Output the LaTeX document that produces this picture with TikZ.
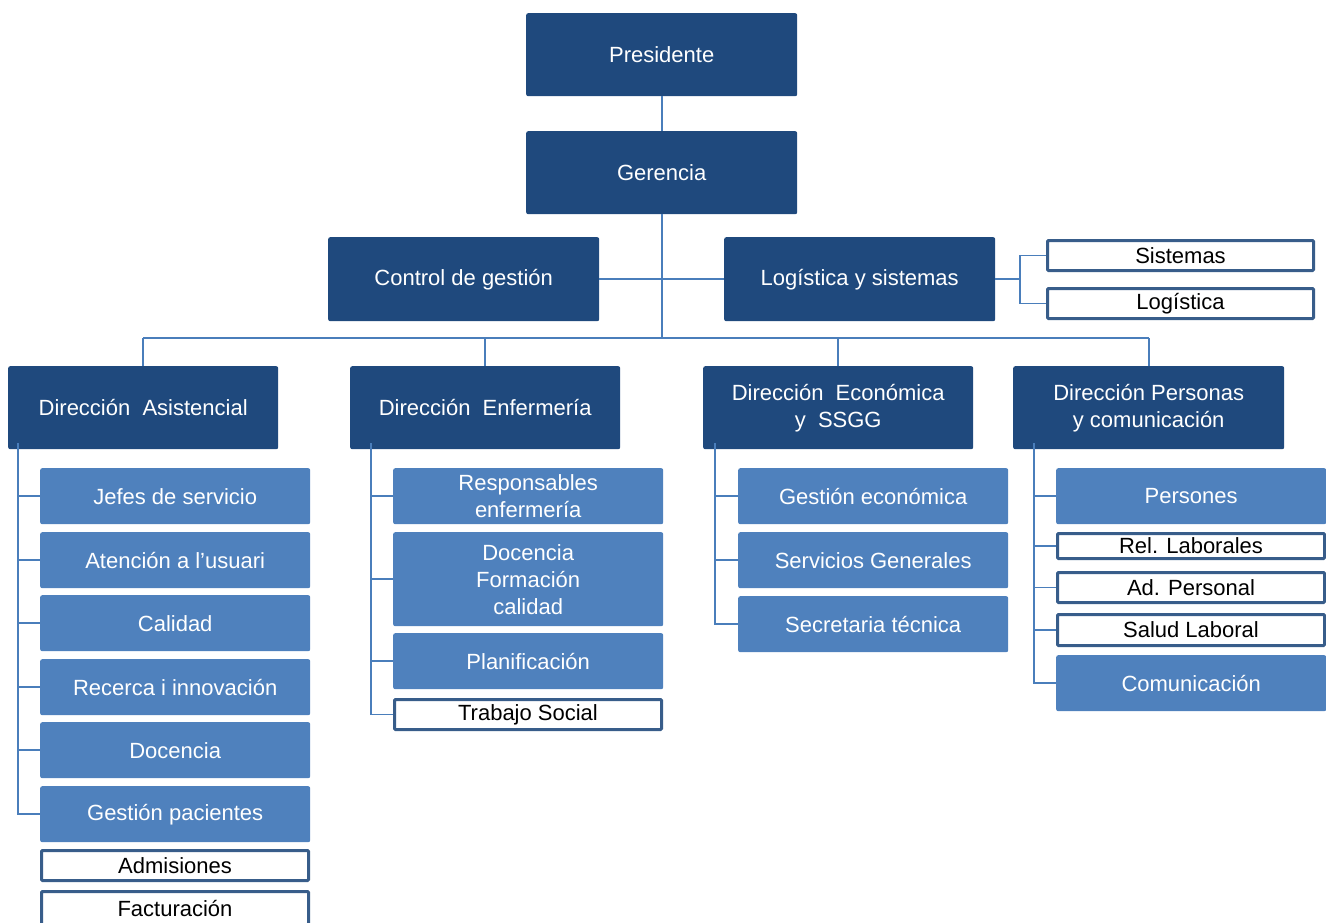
\documentclass[tikz,border=0pt]{standalone}
\usepackage{fontspec}
\setmainfont{Liberation Sans}
\definecolor{navy}{HTML}{1F497D}
\definecolor{mid}{HTML}{4F81BD}
\definecolor{edge}{HTML}{385D8A}
\definecolor{conn}{HTML}{4A7EBB}
\begin{document}
\begin{tikzpicture}[x=1pt,y=-1pt,
 base/.style={rounded corners=2pt, inner sep=0pt, align=center, anchor=north west, font=\fontsize{22}{27}\selectfont},
 topbox/.style={base, fill=navy, text=white, minimum width=271pt, minimum height=83pt},
 subbox/.style={base, fill=mid, text=white, minimum width=270pt, minimum height=56pt},
 wbox/.style={base, rounded corners=1pt, fill=white, draw=edge, line width=3pt, text=black, minimum width=267pt, minimum height=30pt},
 link/.style={draw=conn, line width=1.6pt}]
\useasboundingbox (0,0) rectangle (1326,922);

% top level
\node[topbox] (pres) at (526,13) {Presidente};
\node[topbox] (ger) at (526,131) {Gerencia};
\node[topbox, minimum height=84pt] (ctrl) at (328,237) {Control de gestión};
\node[topbox, minimum height=84pt] (log) at (724,237) {Logística y sistemas};
\node[wbox, minimum width=266pt] (sis) at (1046,239) {Sistemas};
\node[wbox, minimum width=266pt] (logi) at (1046,287) {Logística};

% directors
\node[topbox, minimum width=270pt] (dA) at (8,366) {Dirección~~Asistencial};
\node[topbox, minimum width=270pt] (dE) at (350,366) {Dirección~~Enfermería};
\node[topbox, minimum width=270pt] (dEc) at (703,366) {Dirección~~Económica\\y~~SSGG};
\node[topbox] (dP) at (1013,366) {Dirección Personas\\y comunicación};

% Asistencial
\node[subbox] (a1) at (40,468) {Jefes de servicio};
\node[subbox] (a2) at (40,532) {Atención a l’usuari};
\node[subbox] (a3) at (40,595) {Calidad};
\node[subbox] (a4) at (40,659) {Recerca i innovación};
\node[subbox] (a5) at (40,722) {Docencia};
\node[subbox] (a6) at (40,786) {Gestión pacientes};
\node[wbox] (a7) at (40,849) {Admisiones};
\node[wbox, minimum height=33pt] (a8) at (40,890) {Facturación};

% Enfermeria
\node[subbox] (e1) at (393,468) {Responsables\\enfermería};
\node[subbox, minimum height=94pt] (e2) at (393,532) {Docencia\\Formación\\calidad};
\node[subbox] (e3) at (393,633) {Planificación};
\node[wbox] (e4) at (393,698) {Trabajo Social};

% Economica
\node[subbox] (c1) at (738,468) {Gestión económica};
\node[subbox] (c2) at (738,532) {Servicios Generales};
\node[subbox] (c3) at (738,596) {Secretaria técnica};

% Personas
\node[subbox] (p1) at (1056,468) {Persones};
\node[wbox, minimum height=25pt] (p2) at (1056,532) {Rel. Laborales};
\node[wbox] (p3) at (1056,571) {Ad. Personal};
\node[wbox, minimum height=31pt] (p4) at (1056,613) {Salud Laboral};
\node[subbox] (p5) at (1056,655) {Comunicación};

% connectors
\coordinate (busY) at (0,338);
\coordinate (lsj) at (1020,0);
\coordinate (vA) at (18,443);
\coordinate (vE) at (371,443);
\coordinate (vC) at (715,443);
\coordinate (vP) at (1034,443);

\draw[link] (pres.south) -- (ger.north);
\draw[link] (ger.south) -- (ger.south |- busY);
\draw[link] (ctrl.east) -- (log.west);
\draw[link] (dA.north |- busY) -- (dP.north |- busY);
\foreach \d in {dA,dE,dEc,dP}{\draw[link] (\d.north) -- (\d.north |- busY);}
\draw[link] (log.east) -- (lsj |- log.east);
\draw[link] (sis.west) -| (lsj |- logi.west) -- (logi.west);

\foreach \c in {a1,a2,a3,a4,a5,a6}{\draw[link] (vA) |- (\c.west);}
\foreach \c in {e1,e2,e3,e4}{\draw[link] (vE) |- (\c.west);}
\foreach \c in {c1,c2,c3}{\draw[link] (vC) |- (\c.west);}
\foreach \c in {p1,p2,p3,p4,p5}{\draw[link] (vP) |- (\c.west);}
\end{tikzpicture}
\end{document}
